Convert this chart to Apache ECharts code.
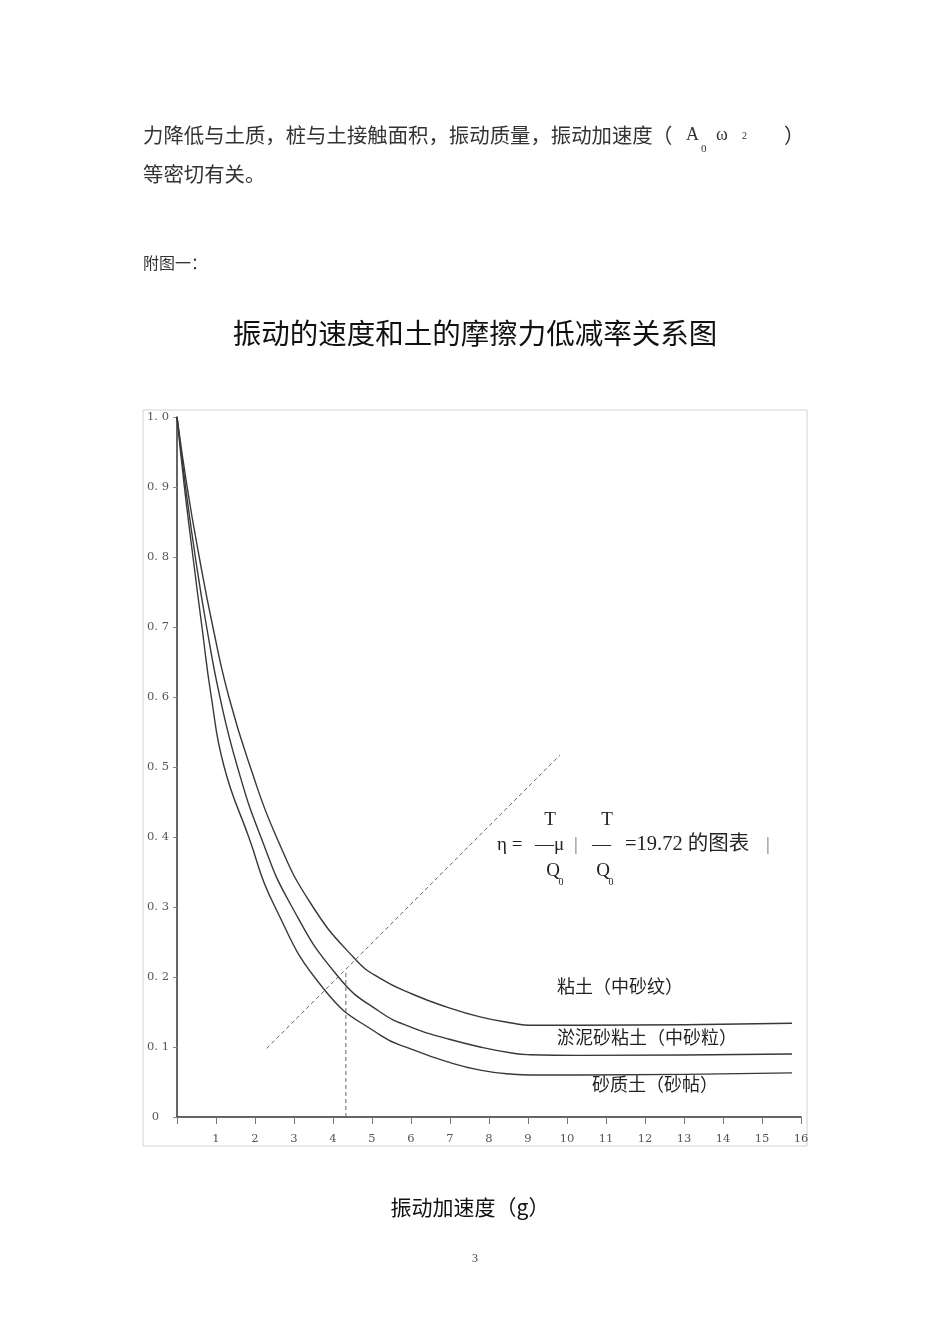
<!DOCTYPE html>
<html>
<head>
<meta charset="utf-8">
<script src="https://cdn.jsdelivr.net/npm/echarts@6/dist/echarts.min.js"></script>
<style>
  html, body { margin: 0; padding: 0; background: #fff; }
  #main { width: 950px; height: 1344px; }
</style>
</head>
<body>
<div id="main"></div>
<script>
// 数据
var soilNames = ['粘土（中砂纹）', '淤泥砂粘土（中砂粒）', '砂质土（砂帖）'];

var clayX = [0, 0.26, 0.57, 0.92, 1.33, 1.88, 2.55, 3.43, 4.56, 5.21, 6.06, 6.92, 7.77, 8.62, 9.05, 10.3, 15.77];
var clayY = [1.0, 0.9, 0.8, 0.7, 0.6, 0.5, 0.4, 0.305, 0.226, 0.198, 0.175, 0.157, 0.143, 0.134, 0.131, 0.131, 0.134];

var siltX = [0, 0.22, 0.47, 0.76, 1.10, 1.55, 2.15, 2.90, 4.14, 5.21, 6.06, 6.92, 7.77, 8.62, 9.05, 10.3, 15.77];
var siltY = [1.0, 0.9, 0.8, 0.7, 0.6, 0.5, 0.4, 0.305, 0.200, 0.150, 0.127, 0.112, 0.100, 0.091, 0.089, 0.088, 0.090];

var sandX = [0, 0.19, 0.41, 0.64, 0.88, 1.21, 1.84, 2.47, 3.79, 5.21, 6.06, 6.92, 7.77, 8.62, 9.05, 10.3, 15.77];
var sandY = [1.0, 0.9, 0.8, 0.7, 0.6, 0.5, 0.4, 0.305, 0.181, 0.117, 0.096, 0.079, 0.067, 0.061, 0.060, 0.060, 0.063];

// 虚线
var diagX = [2.30, 9.82];
var diagY = [0.098, 0.517];
var vertX = [4.33, 4.33];
var vertY = [0, 0.21];

var xTickLabels = ['', '1', '2', '3', '4', '5', '6', '7', '8', '9', '10', '11', '12', '13', '14', '15', '16'];
var yTickLabels = ['0', '0. 1', '0. 2', '0. 3', '0. 4', '0. 5', '0. 6', '0. 7', '0. 8', '0. 9', '1. 0'];

function pairs(xs, ys) {
  var out = [];
  for (var i = 0; i < xs.length; i++) out.push([xs[i], ys[i]]);
  return out;
}

var cjk = '"Noto Sans CJK SC", sans-serif';
var serif = '"Liberation Serif", "Noto Sans CJK SC", serif';
var tickFont = '"DejaVu Serif", serif';

function txt(x, y, s, size, opt) {
  opt = opt || {};
  return {
    type: 'text', x: x, y: y, z: 10,
    style: {
      text: s,
      fontSize: size,
      fontFamily: opt.font || cjk,
      fontWeight: opt.weight || 'normal',
      fill: opt.color || '#222',
      textAlign: opt.align || 'left',
      textVerticalAlign: 'middle'
    }
  };
}

var curveStyle = { color: '#383838', width: 1.4 };
var dashStyle = { color: '#666', width: 1, type: [4, 3] };

var option = {
  animation: false,
  backgroundColor: '#fff',
  grid: { left: 177, top: 417, width: 624, height: 700, containLabel: false },
  xAxis: {
    type: 'value', min: 0, max: 16, interval: 1,
    axisLine: { show: true, lineStyle: { color: '#333', width: 1.5 } },
    axisTick: { show: true, length: 7, lineStyle: { color: '#777' } },
    axisLabel: {
      margin: 16, color: '#555', fontSize: 11.5, fontFamily: tickFont,
      formatter: function (v) { return xTickLabels[Math.round(v)]; }
    },
    splitLine: { show: false }
  },
  yAxis: {
    type: 'value', min: 0, max: 1, interval: 0.1,
    axisLine: { show: true, lineStyle: { color: '#333', width: 1.5 } },
    axisTick: { show: true, length: 4, lineStyle: { color: '#888' } },
    axisLabel: {
      margin: 8, color: '#555', fontSize: 11.5, fontFamily: tickFont,
      formatter: function (v) {
        var i = Math.round(v * 10);
        return i === 0 ? '{z|' + yTickLabels[0] + '}' : yTickLabels[i];
      },
      rich: { z: { padding: [0, 10, 0, 0], fontSize: 11.5, fontFamily: tickFont, color: '#555' } }
    },
    splitLine: { show: false }
  },
  series: [
    { name: soilNames[0], type: 'line', data: pairs(clayX, clayY), showSymbol: false, smooth: 0.5, lineStyle: curveStyle },
    { name: soilNames[1], type: 'line', data: pairs(siltX, siltY), showSymbol: false, smooth: 0.5, lineStyle: curveStyle },
    { name: soilNames[2], type: 'line', data: pairs(sandX, sandY), showSymbol: false, smooth: 0.5, lineStyle: curveStyle },
    { type: 'line', data: pairs(diagX, diagY), showSymbol: false, lineStyle: dashStyle },
    { type: 'line', data: pairs(vertX, vertY), showSymbol: false, lineStyle: dashStyle }
  ],
  graphic: [
    { type: 'rect', shape: { x: 143, y: 410, width: 664, height: 736 }, style: { fill: 'none', stroke: '#d2d2d2', lineWidth: 1 }, z: 0 },
    // 正文
    txt(143, 135, '力降低与土质，桩与土接触面积，振动质量，振动加速度', 20.4, { color: '#333' }),
    txt(652, 135, '（', 20.4, { color: '#333' }),
    txt(686, 135, 'A', 18, { font: serif, color: '#333' }),
    txt(701, 149, '0', 11, { font: serif, color: '#333' }),
    txt(716, 135, 'ω', 18, { font: serif, color: '#333' }),
    txt(742, 136, '2', 10, { font: serif, color: '#333' }),
    txt(784, 135, '）', 20.4, { color: '#333' }),
    txt(143, 174, '等密切有关。', 20.4, { color: '#333' }),
    txt(143, 263, '附图一：', 16, { color: '#333' }),
    // 标题
    txt(475, 333, '振动的速度和土的摩擦力低减率关系图', 28.5, { align: 'center', color: '#111' }),
    // 公式
    txt(550, 820, 'T', 19, { font: serif, align: 'center' }),
    txt(607, 820, 'T', 19, { font: serif, align: 'center' }),
    txt(497, 845, 'η =', 19, { font: serif }),
    txt(535, 845, '—μ', 19, { font: serif }),
    txt(574, 845, '|', 19, { font: serif, color: '#777' }),
    txt(592, 845, '—', 19, { font: serif }),
    txt(625, 845, '=19.72 的图表', 20.5, { font: serif }),
    txt(766, 845, '|', 19, { font: serif, color: '#777' }),
    txt(553, 871, 'Q', 19, { font: serif, align: 'center' }),
    txt(561, 882, '0', 10, { font: serif, align: 'center' }),
    txt(603, 871, 'Q', 19, { font: serif, align: 'center' }),
    txt(611, 882, '0', 10, { font: serif, align: 'center' }),
    // 曲线标注
    txt(557, 986, soilNames[0], 18),
    txt(557, 1037, soilNames[1], 18),
    txt(592, 1084, soilNames[2], 18),
    // 横轴名称与页码
    txt(470, 1207, '振动加速度（g）', 21, { align: 'center', color: '#111' }),
    txt(475, 1259, '3', 12, { font: serif, align: 'center', color: '#444' })
  ]
};

var myCharts = echarts.init(document.getElementById('main'));
myCharts.setOption(option);
</script>
</body>
</html>
